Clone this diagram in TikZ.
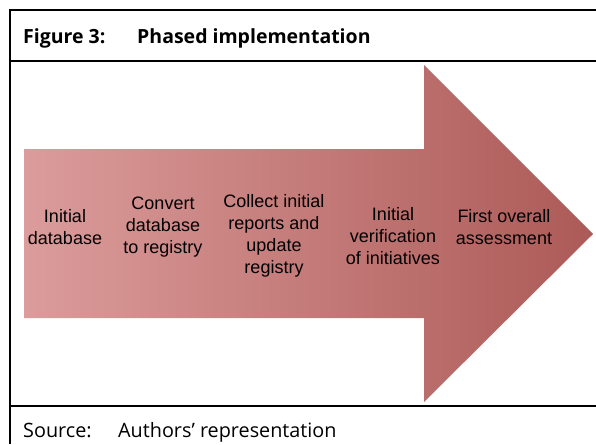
\documentclass[tikz,border=0pt]{standalone}
\usepackage{fontspec}
\setmainfont{Liberation Sans}
\newfontfamily\headfont{Open Sans}
\usepackage{tikz}
\usetikzlibrary{positioning}
\usepackage{xcolor}
\definecolor{arrowleft}{HTML}{DB9C9B}
\definecolor{arrowright}{HTML}{AC5A57}

\begin{document}
\begin{tikzpicture} [x=1pt, y=-1pt,
		step label/.style={align=center, font=\fontsize{18}{22}\selectfont, inner sep=0pt},
		head label/.style={anchor=base west, inner sep=0pt, font=\headfont\fontsize{19.8}{24}\selectfont}]
				\useasboundingbox (0, 0) rectangle (596, 444);
				\draw [black, line width=2pt] (596, 10)--(10, 10)--(10, 444);
				\draw [black, line width=2pt] (10, 61)--(596, 61);
				\draw [black, line width=2pt] (10, 406)--(596, 406);
				\node [head label, font=\headfont\bfseries\fontsize{19.5}{24}\selectfont] (fig) at (23, 44) {Figure 3:};
				\node [head label, font=\headfont\bfseries\fontsize{19.5}{24}\selectfont] (title) at (137, 44) {Phased implementation};
				\node [head label] (src) at (23, 437) {Source:};
				\node [head label] (srctext) at (118, 437) {Authors’ representation};
				\shade [left color=arrowleft, right color=arrowright] (24, 149)--(424, 149)--(424, 65)--(593, 234)--(424, 402)--(424, 318)--(24, 318)--cycle;
				\node [step label] (initial) at (65, 227) {Initial\\database};
				\node [step label] (convert) at (163, 227) {Convert\\database\\to registry};
				\node [step label] (collect) at (274, 236) {Collect initial\\reports and\\update\\registry};
				\node [step label] (verify) at (393, 236) {Initial\\verification\\of initiatives};
				\node [step label] (assess) at (504, 227) {First overall\\assessment};

			\end{tikzpicture}
\end{document}
